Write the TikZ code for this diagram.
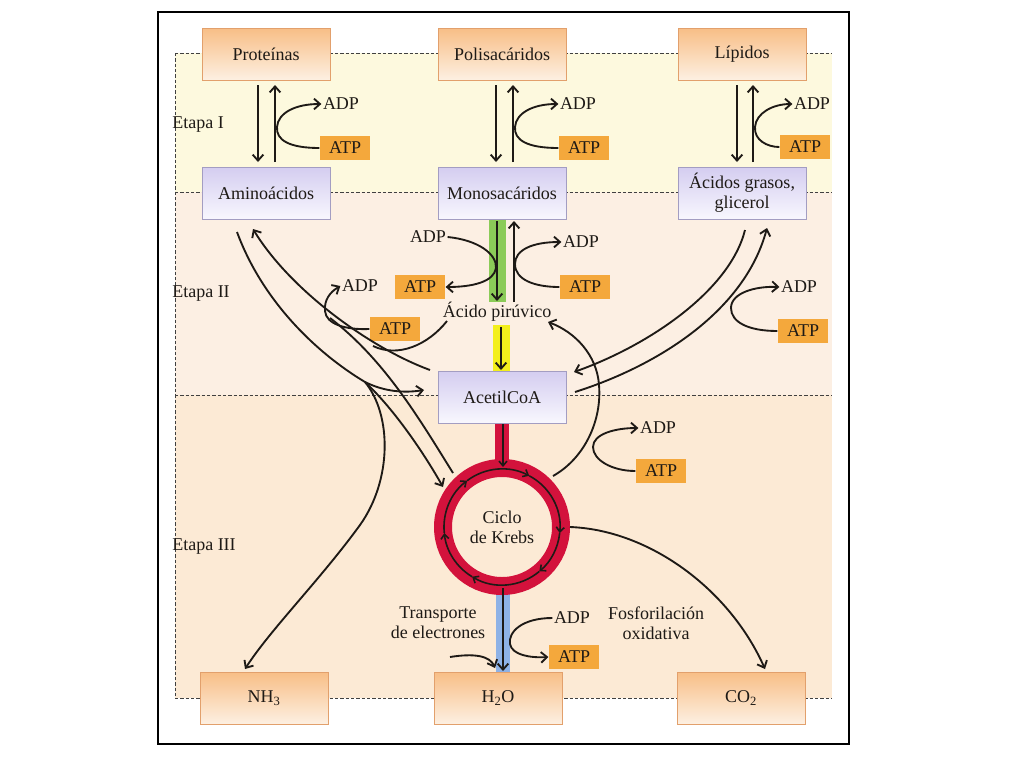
\documentclass[tikz,border=0pt]{standalone}
\usepackage{fontspec}
\setmainfont{Liberation Serif}
\usetikzlibrary{arrows.meta}
\definecolor{bandI}{HTML}{FDF9DE}
\definecolor{bandII}{HTML}{FCEFE3}
\definecolor{bandIII}{HTML}{FCEAD5}
\definecolor{otop}{HTML}{F8BE86}
\definecolor{obot}{HTML}{FDF0E2}
\definecolor{oline}{HTML}{E2A06C}
\definecolor{ltop}{HTML}{D4CDF0}
\definecolor{lbot}{HTML}{F8F7FE}
\definecolor{lline}{HTML}{A39DC2}
\definecolor{atpc}{HTML}{F4A83C}
\definecolor{krebsred}{HTML}{D3123C}
\definecolor{stemblue}{HTML}{8EB2E6}
\definecolor{stemgreen}{HTML}{8BCB58}
\definecolor{stemyellow}{HTML}{F3EF1C}
\definecolor{ink}{HTML}{1E1A16}
\tikzset{
  obox/.style={draw=oline, line width=0.6pt, top color=otop, bottom color=obot, minimum width=96pt, minimum height=39pt, inner sep=0pt, text=ink},
  lbox/.style={draw=lline, line width=0.6pt, top color=ltop, bottom color=lbot, minimum width=96pt, minimum height=39pt, inner sep=0pt, text=ink, align=center},
  atpbox/.style={fill=atpc, minimum width=38pt, minimum height=18.5pt, inner sep=0pt, text=ink},
  lab/.style={inner sep=1pt, text=ink},
  arr/.style={draw=ink, line width=1.4pt, -{Straight Barb[length=4.5pt,width=8pt]}},
  plainline/.style={draw=ink, line width=1.4pt},
  ringarr/.style={draw=ink, line width=1.2pt, -{Straight Barb[length=3.5pt,width=6pt]}},
  dashline/.style={draw=black!75, line width=0.6pt, dash pattern=on 2.5pt off 1.5pt},
}
\begin{document}
\begin{tikzpicture}[x=0.75pt,y=-0.75pt,font=\fontsize{13.5}{15}\selectfont]
\useasboundingbox (0,0) rectangle (1024,768);
\fill[white] (0,0) rectangle (1024,768);
% bands
\fill[bandI] (175,53) rectangle (832,192);
\fill[bandII] (175,192) rectangle (832,395);
\fill[bandIII] (175,395) rectangle (832,698);
\draw[dashline] (175,53) -- (832,53);
\draw[dashline] (175,192) -- (832,192);
\draw[dashline] (175,395) -- (832,395);
\draw[dashline] (175,698) -- (832,698);
\draw[dashline] (175,53) -- (175,698);
\draw[line width=1.1pt] (158,12) rectangle (849,744);

% coloured bars
\fill[stemgreen] (489,219) rectangle (506,302);
\fill[stemyellow] (493,325) rectangle (510,371);
\fill[stemblue] (496,594) rectangle (510,672);
\draw[krebsred, line width=11pt] (502,423) -- (502,465);
\draw[krebsred, line width=13.5pt] (502,527) circle[radius=59];

% stage labels
\node[lab, anchor=west, inner sep=0pt] (e1) at (172,125) {Etapa I};
\node[lab, anchor=west, inner sep=0pt] (e2) at (172,294) {Etapa II};
\node[lab, anchor=west, inner sep=0pt] (e3) at (172,547) {Etapa III};

% boxes
\node[obox] (prot) at (266,54) {Proteínas};
\node[obox] (poli) at (502,54) {Polisacáridos};
\node[obox] (lip) at (742,54) {Lípidos};
\node[lbox] (amino) at (266,193) {Aminoácidos};
\node[lbox] (mono) at (502,193) {Monosacáridos};
\node[lbox] (acgr) at (742,193) {Ácidos grasos,\\glicerol};
\node[lbox] (acet) at (502,397) {AcetilCoA};
\node[obox] (nh3) at (264,698) {NH\textsubscript{3}};
\node[obox] (h2o) at (498,698) {H\textsubscript{2}O};
\node[obox] (co2) at (741,698) {CO\textsubscript{2}};

% stage I
\foreach \i/\d/\u/\ax/\ay/\dx/\dy in {1/258/275/345/148/341/104, 2/496/513/584/148/578/104, 3/737/753/805/147/812/104}{
  \coordinate (dT\i) at (\d,85);
  \coordinate (dB\i) at (\d,162);
  \coordinate (uB\i) at (\u,162);
  \coordinate (uT\i) at (\u,85);
  \draw[arr] (dT\i) -- (dB\i);
  \draw[arr] (uB\i) -- (uT\i);
  \node[atpbox] (atpS\i) at (\ax,\ay) {ATP};
  \node[lab] (adpS\i) at (\dx,\dy) {ADP};
  \draw[arr] (atpS\i.west) .. controls ({\u+14},\ay) and ({\u+1},140) .. ({\u+2},127) .. controls ({\u+3},113) and ({\u+20},104) .. (adpS\i.west);
}

% stage II middle
\coordinate (gTop) at (497,221);
\coordinate (gBot) at (497,301);
\coordinate (mUB) at (514,302);
\coordinate (mUT) at (514,221);
\draw[arr] (gTop) -- (gBot);
\draw[arr] (mUB) -- (mUT);
\node[lab] (pir) at (497,312) {Ácido pirúvico};
\node[lab] (adpM1) at (428,237) {ADP};
\node[atpbox] (atpM1) at (420,287) {ATP};
\node[lab] (adpM2) at (581,242) {ADP};
\node[atpbox] (atpM2) at (585,287) {ATP};
\draw[arr] (adpM1.east) .. controls (478,240) and (497,254) .. (496,268) .. controls (494,282) and (472,287) .. (atpM1.east);
\draw[arr] (atpM2.west) .. controls (535,287) and (515,280) .. (515,264) .. controls (515,250) and (532,242) .. (adpM2.west);
\coordinate (yTop) at (501,327);
\coordinate (yBot) at (501,370);
\draw[arr] (yTop) -- (yBot);

% side ADP/ATP loops
\node[lab] (adpL) at (360,286) {ADP};
\node[atpbox] (atpL) at (395,329) {ATP};
\draw[arr] (atpL.west) .. controls (345,330) and (326,324) .. (325,311) .. controls (324,300) and (330,292) .. (adpL.west);
\node[lab] (adpR) at (799,287) {ADP};
\node[atpbox] (atpR) at (803,331) {ATP};
\draw[arr] (atpR.west) .. controls (748,331) and (731,322) .. (731,308) .. controls (731,293) and (755,286) .. (adpR.west);
\node[lab] (adpK) at (658,428) {ADP};
\node[atpbox] (atpK) at (661,471) {ATP};
\draw[arr] (atpK.west) .. controls (612,471) and (593,460) .. (593,447) .. controls (593,434) and (615,428) .. (adpK.west);

% amino acid lanes
\coordinate (l1s) at (237,232);
\coordinate (l1f) at (365,382);
\coordinate (l1a) at (424,390);
\coordinate (l1k) at (443,487);
\coordinate (l1n) at (245,669);
\draw[plainline] (l1s) .. controls (262,300) and (315,352) .. (l1f);
\draw[arr] (l1f) .. controls (385,392) and (405,393) .. (l1a);
\draw[arr] (l1f) .. controls (395,410) and (425,455) .. (l1k);
\draw[arr] (l1f) .. controls (392,415) and (392,480) .. (360,525) .. controls (320,580) and (270,630) .. (l1n);
\coordinate (l2s) at (430,370);
\coordinate (l2e) at (253,229);
\coordinate (l2k) at (453,473);
\coordinate (l2m) at (330,318);
\coordinate (l2p) at (373,346);
\coordinate (pirs) at (447,321);
\draw[arr] (l2s) .. controls (370,348) and (290,290) .. (l2e);
\draw[plainline] (l2k) .. controls (420,420) and (385,360) .. (l2m);
\draw[plainline] (pirs) .. controls (428,345) and (398,358) .. (l2p);

% fatty acid lanes
\coordinate (r1s) at (745,230);
\coordinate (r1e) at (574,372);
\coordinate (r2s) at (575,392);
\coordinate (r2e) at (767,228);
\draw[arr] (r1s) .. controls (730,290) and (650,345) .. (r1e);
\draw[arr] (r2s) .. controls (660,365) and (745,310) .. (r2e);

% Krebs to pyruvate and CO2
\coordinate (kp1) at (553,476);
\coordinate (kp2) at (548,322);
\draw[arr] (kp1) .. controls (585,458) and (602,420) .. (599,385) .. controls (597,355) and (575,332) .. (kp2);
\coordinate (kc1) at (570,527);
\coordinate (kc2) at (765,669);
\draw[arr] (kc1) .. controls (650,530) and (730,590) .. (kc2);

% Krebs cycle
\coordinate (sTop) at (503,424);
\coordinate (sBot) at (503,467);
\draw[ringarr] (sTop) -- (sBot);
\begin{scope}[shift={(502,527)}, x=0.75pt, y=0.75pt]
  \foreach \a/\b in {127/62, 62/-6, -6/-50, -50/-121, -121/-174, -174/-233}{
    \draw[ringarr] (\a:58) arc[start angle=\a, end angle=\b, radius=43.5pt];
  }
\end{scope}
\node[lab, align=center] (krebs) at (502,527) {Ciclo\\de Krebs};

% electron transport
\coordinate (bTop) at (503,588);
\coordinate (bBot) at (503,671);
\draw[arr] (bTop) -- (bBot);
\node[lab, align=center] (trans) at (438,623) {Transporte\\de electrones};
\coordinate (tr1) at (450,657);
\coordinate (tr2) at (495,668);
\draw[arr] (tr1) .. controls (475,653) and (490,656) .. (tr2);
\node[lab] (adpH) at (572,618) {ADP};
\node[atpbox] (atpH) at (574,657) {ATP};
\draw[arr] (adpH.west) .. controls (522,618) and (508,632) .. (510,644) .. controls (512,655) and (530,658) .. (atpH.west);
\node[lab, align=center] (fosf) at (656,623) {Fosforilación\\oxidativa};
\end{tikzpicture}
\end{document}
